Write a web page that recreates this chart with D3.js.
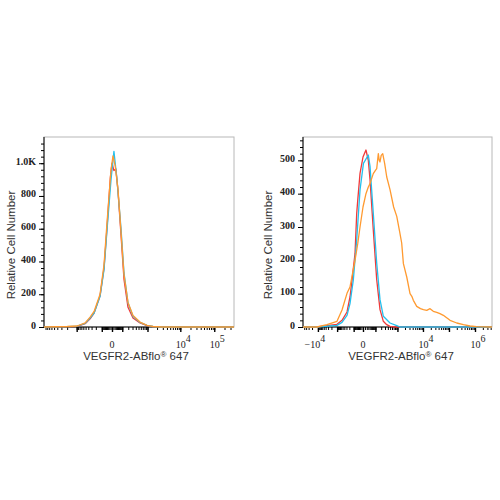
<!DOCTYPE html>
<html>
<head>
<meta charset="utf-8">
<script src="https://cdn.jsdelivr.net/npm/d3@7"></script>
<style>
body { margin: 0; background: #fff; }
svg { display: block; }
</style>
</head>
<body>
<script>
// left histogram (isotype / unstained / stained all overlap)
var leftRedX = [-10000, -964, -520, -342, -237, -125, -72, -40, -12, 0, 14, 30, 50, 84, 125, 195, 313, 563, 964, 1500, 380000];
var leftRedY = [0, 4, 20, 50, 85, 190, 360, 610, 910, 1000, 955, 965, 830, 560, 290, 120, 55, 25, 8, 2, 0];
var leftCyanX = [-10000, -1990, -964, -520, -342, -237, -125, -72, -40, -7, 14, 40, 84, 125, 195, 313, 563, 964, 1500, 2840, 380000];
var leftCyanY = [0, 2, 5, 22, 55, 85, 187, 350, 594, 898, 1072, 900, 600, 330, 146, 65, 28, 10, 3, 0, 0];
var leftOrangeX = [-10000, -1990, -964, -520, -342, -237, -125, -72, -40, -7, 7, 25, 50, 84, 125, 195, 313, 563, 964, 1500, 2840, 380000];
var leftOrangeY = [0, 3, 6, 25, 60, 95, 200, 380, 640, 960, 1045, 980, 840, 580, 320, 150, 70, 30, 10, 3, 0, 0];

// right histogram (orange shifted)
var rightRedX = [-58000, -11150, -1015, -540, -278, -181, -132, -78, -55, -43, -21, 0, 15, 30, 43, 74, 118, 175, 252, 358, 495, 800, 4500000];
var rightRedY = [0, 0, 8, 20, 45, 90, 140, 220, 340, 380, 461, 510, 531, 500, 442, 292, 142, 52, 17, 7, 2, 0, 0];
var rightCyanX = [-58000, -11150, -1015, -540, -278, -181, -106, -55, -21, 2, 30, 43, 74, 118, 175, 252, 495, 940, 1270, 4500000];
var rightCyanY = [0, 0, 5, 14, 35, 70, 141, 261, 411, 491, 516, 482, 342, 192, 82, 32, 12, 4, 0, 0];
var rightOrangeX = [-58000, -11150, -3400, -1015, -540, -278, -181, -78, -43, -21, 0, 15, 30, 43, 74, 100, 118, 144, 160, 175, 200, 236, 290, 358, 495, 700, 940, 1200, 1480, 1730, 2345, 3150, 3700, 4240, 5730, 8000, 10400, 14000, 18750, 25000, 33900, 45000, 60800, 110000, 199500, 359000, 648000, 1170000, 4500000];
var rightOrangeY = [0, 0, 7, 17, 51, 101, 120, 200, 250, 300, 360, 400, 420, 430, 460, 470, 475, 520, 500, 495, 515, 520, 490, 450, 412, 360, 332, 290, 252, 190, 150, 100, 92, 80, 62, 55, 52, 50, 55, 47, 44, 40, 35, 20, 12, 7, 3, 1, 0];

var leftYTicks = [0, 200, 400, 600, 800, 1000];
var leftYLabels = ["0", "200", "400", "600", "800", "1.0K"];
var rightYTicks = [0, 100, 200, 300, 400, 500];
var rightYLabels = ["0", "100", "200", "300", "400", "500"];

var leftXLabels = [{v: 0, t: "0", s: ""}, {v: 1e4, t: "10", s: "4"}, {v: 1e5, t: "10", s: "5"}];
var rightXLabels = [{v: -1e4, t: "\u221210", s: "4"}, {v: 0, t: "0", s: ""}, {v: 1e4, t: "10", s: "4"}, {v: 1e6, t: "10", s: "6"}];

var colors = {red: "#f03a3a", cyan: "#22c0ee", orange: "#ff9a30"};

var plotTop = 137, plotBottom = 327;

var svg = d3.select("body").append("svg")
    .attr("width", 500)
    .attr("height", 500);

function panel(p) {
    var x = d3.scaleSymlog()
        .constant(p.c)
        .domain(p.xDomain)
        .range(p.xRange);
    var y = d3.scaleLinear()
        .domain([0, p.yMax])
        .range([plotBottom, plotTop]);

    var g = svg.append("g");
    var x0 = p.xRange[0], x1 = p.xRange[2];

    // frame
    g.append("rect")
        .attr("x", x0).attr("y", plotTop)
        .attr("width", x1 - x0).attr("height", plotBottom - plotTop)
        .attr("fill", "none")
        .attr("stroke", "#b8b8b8");

    // log style ticks on x
    var minor = [], major = [0];
    for (var k = 1; k <= 6; k++) {
        for (var m = 1; m <= 9; m++) {
            [m * Math.pow(10, k), -m * Math.pow(10, k)].forEach(function (v) {
                if (v > p.xDomain[0] && v < p.xDomain[2]) minor.push(v);
            });
        }
        if (k >= 2) {
            [Math.pow(10, k), -Math.pow(10, k)].forEach(function (v) {
                if (v > p.xDomain[0] && v < p.xDomain[2]) major.push(v);
            });
        }
    }

    g.append("g")
        .attr("transform", "translate(0," + plotBottom + ")")
        .call(d3.axisBottom(x).tickValues(minor).tickSize(3).tickSizeOuter(0).tickFormat(""))
        .call(function (a) { a.select(".domain").remove(); });
    g.append("g")
        .attr("transform", "translate(0," + plotBottom + ")")
        .call(d3.axisBottom(x).tickValues(major).tickSize(5).tickSizeOuter(0).tickFormat(""))
        .call(function (a) { a.select(".domain").remove(); })
        .selectAll("line").attr("stroke-width", 1.4);

    // y ticks
    g.append("g")
        .attr("transform", "translate(" + x0 + ",0)")
        .call(d3.axisLeft(y).tickValues(d3.range(0, p.yMax, p.yMinor)).tickSize(3).tickFormat(""))
        .call(function (a) { a.select(".domain").remove(); });
    g.append("g")
        .attr("transform", "translate(" + x0 + ",0)")
        .call(d3.axisLeft(y).tickValues(p.yTicks).tickSize(5).tickPadding(3)
            .tickFormat(function (d, i) { return p.yLabels[i]; }))
        .call(function (a) { a.select(".domain").remove(); })
        .selectAll("text")
        .attr("font-family", "'Liberation Serif', serif")
        .attr("font-weight", "bold")
        .attr("font-size", 10)
        .attr("fill", "#222")
        .attr("dy", "0.1em");

    // spines
    g.append("line").attr("x1", x0).attr("x2", x0).attr("y1", plotTop).attr("y2", plotBottom).attr("stroke", "#000");
    g.append("line").attr("x1", x0).attr("x2", x1).attr("y1", plotBottom).attr("y2", plotBottom).attr("stroke", "#000");

    // x tick labels
    var lab = g.append("g")
        .selectAll("text")
        .data(p.xLabels)
        .enter().append("text")
        .attr("x", function (d) { return x(d.v) + (d.s ? (d.v < 0 ? -3 : 3) : 0); })
        .attr("y", 348)
        .attr("text-anchor", "middle")
        .attr("font-family", "'Liberation Serif', serif")
        .attr("font-size", 10)
        .attr("fill", "#222");
    lab.append("tspan").text(function (d) { return d.t; });
    lab.append("tspan")
        .attr("dy", -6)
        .text(function (d) { return d.s; });

    // curves
    var line = d3.line()
        .x(function (d) { return x(d[0]); })
        .y(function (d) { return y(d[1]); });
    p.series.forEach(function (s) {
        g.append("path")
            .datum(d3.zip(s.xs, s.ys))
            .attr("fill", "none")
            .attr("stroke", s.color)
            .attr("stroke-width", 1.3)
            .attr("stroke-linejoin", "round")
            .attr("d", line);
    });

    // axis titles
    var xt = g.append("text")
        .attr("x", p.titleX)
        .attr("y", 360)
        .attr("text-anchor", "middle")
        .attr("font-family", "'Liberation Sans', Arial, sans-serif")
        .attr("font-size", 11.5)
        .attr("fill", "#333");
    xt.append("tspan").text("VEGFR2-ABflo");
    xt.append("tspan").attr("font-size", 8).attr("dy", -3).text("\u00ae");
    xt.append("tspan").attr("dy", 3).text(" 647");

    g.append("text")
        .attr("transform", "translate(" + p.yTitleX + "," + 245 + ") rotate(-90)")
        .attr("text-anchor", "middle")
        .attr("font-family", "'Liberation Sans', Arial, sans-serif")
        .attr("font-size", 11.5)
        .attr("fill", "#333")
        .text("Relative Cell Number");
}

panel({
    c: 100,
    xDomain: [-1e4, 0, 3.8e5],
    xRange: [44, 112, 234],
    yMax: 1160,
    yMinor: 40,
    yTicks: leftYTicks,
    yLabels: leftYLabels,
    xLabels: leftXLabels,
    titleX: 136,
    yTitleX: 15,
    series: [
        {xs: leftRedX, ys: leftRedY, color: colors.red},
        {xs: leftCyanX, ys: leftCyanY, color: colors.cyan},
        {xs: leftOrangeX, ys: leftOrangeY, color: colors.orange}
    ]
});

panel({
    c: 50,
    xDomain: [-5.8e4, 0, 4.5e6],
    xRange: [303, 363, 492],
    yMax: 570,
    yMinor: 20,
    yTicks: rightYTicks,
    yLabels: rightYLabels,
    xLabels: rightXLabels,
    titleX: 401,
    yTitleX: 272,
    series: [
        {xs: rightRedX, ys: rightRedY, color: colors.red},
        {xs: rightCyanX, ys: rightCyanY, color: colors.cyan},
        {xs: rightOrangeX, ys: rightOrangeY, color: colors.orange}
    ]
});
</script>
</body>
</html>
